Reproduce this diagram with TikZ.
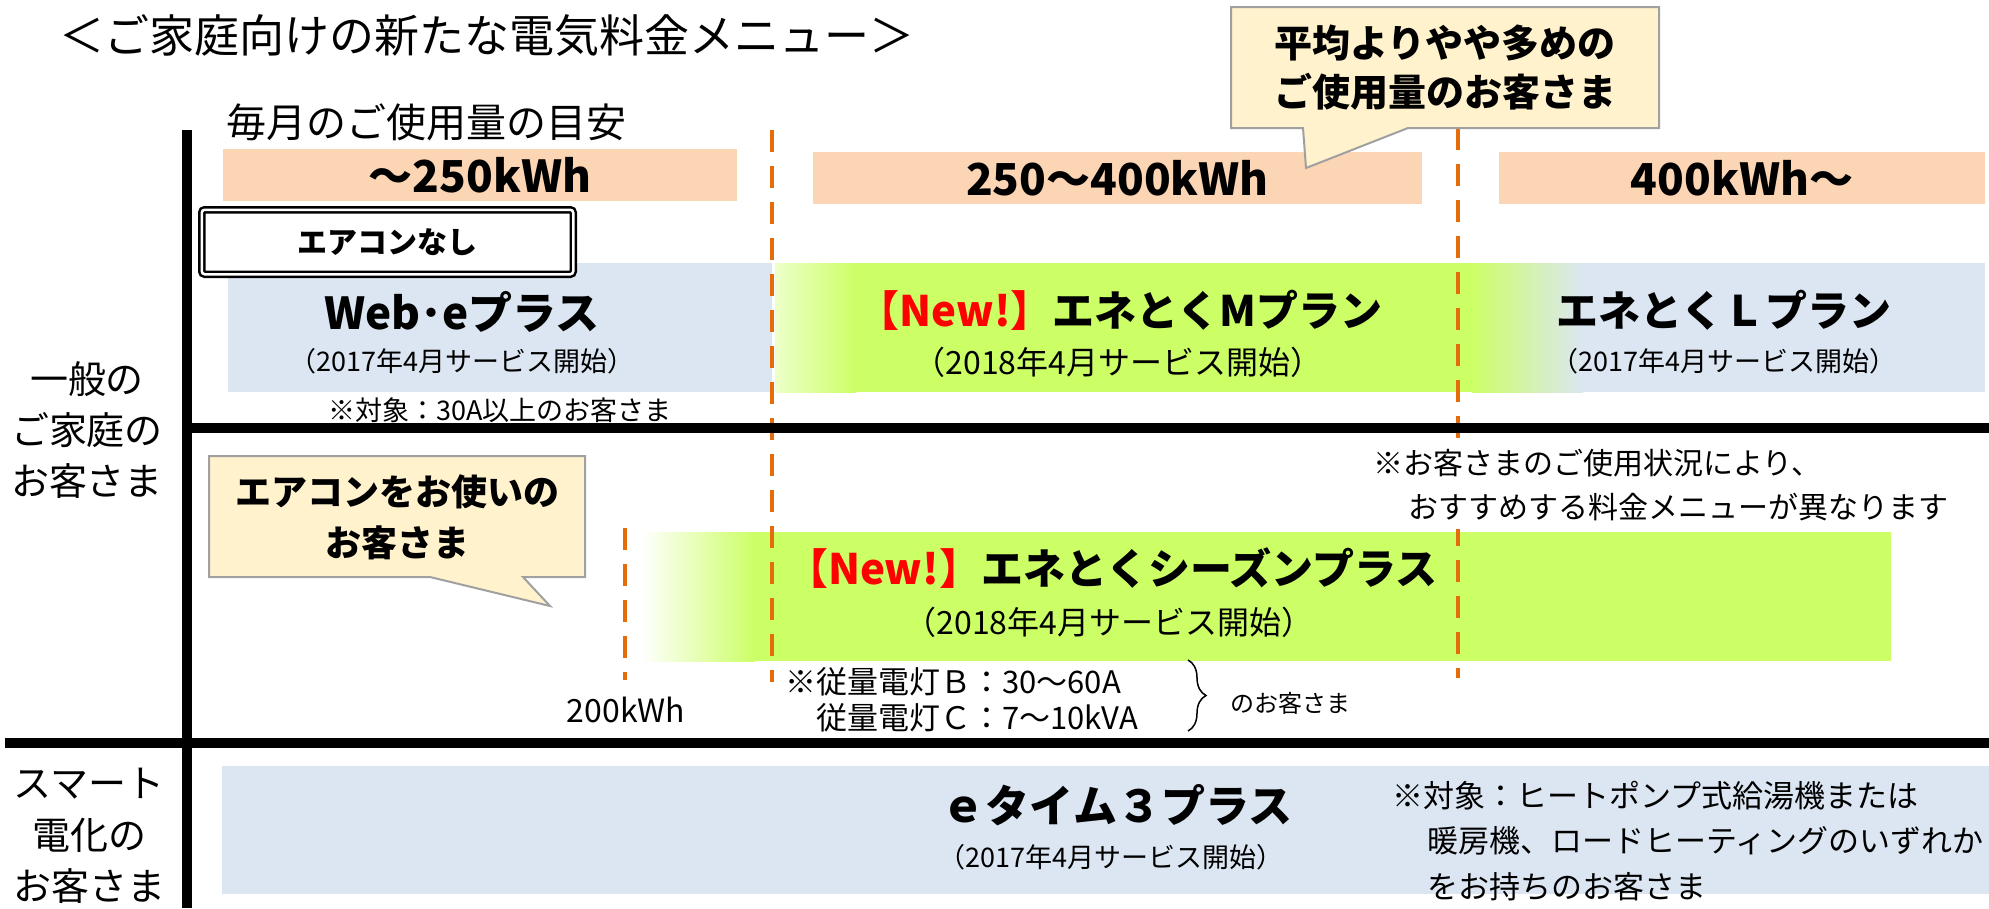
\documentclass[tikz,border=0pt]{standalone}
\usepackage{fontspec}
\setmainfont{Noto Sans CJK JP}
\usetikzlibrary{positioning, decorations.pathreplacing}

\definecolor{peach}{HTML}{FCD5B5}
\definecolor{paleblue}{HTML}{DCE6F2}
\definecolor{lime}{HTML}{CCFF66}
\definecolor{memo}{HTML}{FFF2CC}
\definecolor{edge}{HTML}{A0A0A0}
\definecolor{tangerine}{HTML}{E46C0A}
\definecolor{newred}{HTML}{FF0000}

\begin{document}
\begin{tikzpicture}[x=1pt, y=-1pt,
  every node/.style = {inner sep=0pt, align=center},
  kwhbox/.style = {fill=peach, minimum height=52pt, font=\fontsize{44}{48}\selectfont\bfseries},
  planname/.style = {font=\fontsize{42}{48}\selectfont\bfseries},
  startdate/.style = {font=\fontsize{27}{32}\selectfont},
  divline/.style = {draw=tangerine, line width=4pt, dash pattern=on 22pt off 14pt},
  axisline/.style = {line width=10pt},
  bubble/.style = {fill=memo, draw=edge, line width=2pt}]

  \useasboundingbox (0,0) rectangle (1989,908);

  \node[font=\fontsize{45}{48}\selectfont] (title) at (487,36) {＜ご家庭向けの新たな電気料金メニュー＞};
  \node[font=\fontsize{40}{44}\selectfont] (guide) at (426,122) {毎月のご使用量の目安};

  \node[kwhbox, minimum width=514pt] (low) at (480,175) {～250kWh};
  \node[kwhbox, minimum width=609pt] (mid) at (1117.5,178) {250～400kWh};
  \node[kwhbox, minimum width=486pt] (high) at (1742,178) {400kWh～};

  \fill[paleblue] (228,263) rectangle (772,392);
  \shade[left color=lime!35, right color=lime] (775,263) rectangle (856,392);
  \fill[lime] (855,263) rectangle (1473,392);
  \shade[left color=lime, right color=paleblue] (1472,263) rectangle (1583,392);
  \fill[paleblue] (1582,263) rectangle (1985,392);
  \shade[left color=white, right color=lime] (641,532) rectangle (755,661);
  \fill[lime] (754,532) rectangle (1891,661);
  \fill[paleblue] (222,766) rectangle (1989,894);

  \coordinate (m-top) at (772,130);
  \coordinate (m-end) at (772,682);
  \coordinate (l-top) at (1458,128);
  \coordinate (l-end) at (1458,678);
  \coordinate (s-top) at (625,528);
  \coordinate (s-end) at (625,680);
  \draw[divline] (m-top) -- (m-end);
  \draw[divline] (l-top) -- (l-end);
  \draw[divline] (s-top) -- (s-end);

  \coordinate (ax-top) at (187,130);
  \coordinate (ax-end) at (187,908);
  \coordinate (home-l) at (187,428);
  \coordinate (home-r) at (1989,428);
  \coordinate (smart-l) at (5,743);
  \coordinate (smart-r) at (1989,743);
  \draw[axisline] (ax-top) -- (ax-end);
  \draw[axisline] (home-l) -- (home-r);
  \draw[axisline] (smart-l) -- (smart-r);

  \node[font=\fontsize{38}{51}\selectfont] (home) at (87,430) {一般の\\ご家庭の\\お客さま};
  \node[font=\fontsize{38}{51.5}\selectfont] (smart) at (89,836) {スマート\\電化の\\お客さま};

  \node[draw, double, double distance=2.5pt, line width=2.5pt, fill=white, rounded corners=3pt,
    minimum width=371.5pt, minimum height=64.5pt, font=\fontsize{30}{34}\selectfont\bfseries] (noac) at (387.5,242) {エアコンなし};

  \node[planname, font=\fontsize{44}{48}\selectfont\bfseries] (webe) at (462,312) {Web･eプラス};
  \node[startdate] (webe-since) at (462,361) {（2017年4月サービス開始）};
  \node[planname] (eneM) at (1120,310) {{\color{newred}【New!】}エネとくMプラン};
  \node[startdate, font=\fontsize{32}{36}\selectfont] (eneM-since) at (1118,362) {（2018年4月サービス開始）};
  \node[planname] (eneL) at (1724,310) {エネとくＬプラン};
  \node[startdate] (eneL-since) at (1724,361) {（2017年4月サービス開始）};
  \node[font=\fontsize{27}{30}\selectfont] (amp) at (500,410) {※対象：30A以上のお客さま};

  \draw[bubble] (209,456) -- (585,456) -- (585,577) -- (523,577) -- (550,606) -- (430,577) -- (209,577) -- cycle;
  \node[font=\fontsize{36}{51}\selectfont\bfseries] (aircon) at (397,517) {エアコンをお使いの\\お客さま};

  \node[fill=white, inner sep=8pt, anchor=west, align=left, font=\fontsize{30}{44}\selectfont] (usage) at (1365,485)
    {※お客さまのご使用状況により、\\\hspace*{35pt}おすすめする料金メニューが異なります};

  \node[planname] (season) at (1112,568) {{\color{newred}【New!】}エネとくシーズンプラス};
  \node[startdate, font=\fontsize{32}{36}\selectfont] (season-since) at (1109,622) {（2018年4月サービス開始）};
  \node[anchor=west, align=left, font=\fontsize{31}{36}\selectfont] (meter) at (785,700)
    {※従量電灯Ｂ：30～60A\\\hspace*{31pt}従量電灯Ｃ：7～10kVA};
  \coordinate (br-top) at (1188,660);
  \coordinate (br-end) at (1188,731);
  \draw[decorate, decoration={brace, amplitude=18pt}, line width=1.5pt] (br-top) -- (br-end);
  \node[anchor=west, font=\fontsize{24}{28}\selectfont] (only) at (1230,703) {のお客さま};
  \node[font=\fontsize{32}{34}\selectfont] (kwh200) at (626,710) {200kWh};

  \node[font=\fontsize{44}{48}\selectfont\bfseries] (etime) at (1117,805) {ｅタイム３プラス};
  \node[startdate] (etime-since) at (1111,857) {（2017年4月サービス開始）};
  \node[anchor=west, align=left, font=\fontsize{31}{45.5}\selectfont] (heat) at (1392,841)
    {※対象：ヒートポンプ式給湯機または\\\hspace*{35pt}暖房機、ロードヒーティングのいずれか\\\hspace*{35pt}をお持ちのお客さま};

  \draw[bubble] (1231,7) -- (1659,7) -- (1659,128) -- (1408,128) -- (1306,168) -- (1303,128) -- (1231,128) -- cycle;
  \node[font=\fontsize{38}{49}\selectfont\bfseries] (avg) at (1445,68) {平均よりやや多めの\\ご使用量のお客さま};
\end{tikzpicture}
\end{document}
